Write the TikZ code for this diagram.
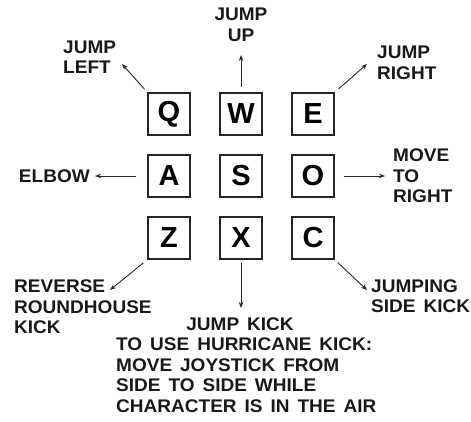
\documentclass[tikz,border=0pt]{standalone}
\usepackage{fontspec}
\setmainfont{Liberation Sans}
\newfontfamily\lblfont{Liberation Sans}[WordSpace=1.5, FakeStretch=1.04]
\usetikzlibrary{arrows.meta}
\begin{document}
\begin{tikzpicture}[
  x=1pt, y=-1pt,
  key/.style={rectangle, draw=black!85, line width=1.6pt, minimum width=42pt,
    minimum height=42pt, inner sep=0pt, font=\fontsize{29}{29}\selectfont\bfseries},
  lbl/.style={inner sep=0pt, align=left, text=black!90,
    font=\lblfont\fontsize{18.3}{20.5}\selectfont\bfseries},
  arr/.style={->, >={Stealth[length=6pt,width=4.5pt]}, line width=0.9pt, draw=black!85},
]
\useasboundingbox (0,0) rectangle (471,421);

% Keyboard grid
\node[key] (q) at (169,114) {Q};
\node[key] (w) at (241,114) {W};
\node[key] (e) at (313,114) {E};
\node[key] (a) at (169,176) {A};
\node[key] (s) at (241,176) {S};
\node[key] (o) at (313,176) {O};
\node[key] (z) at (169,238) {Z};
\node[key] (x) at (241,238) {X};
\node[key] (c) at (313,238) {C};

% Move labels
\node[lbl, align=center] (jumpup) at (241,25) {JUMP\\UP};
\node[lbl, anchor=west] (jumpleft) at (63,57) {JUMP\\LEFT};
\node[lbl, anchor=west] (jumpright) at (377,63) {JUMP\\RIGHT};
\node[lbl, anchor=east] (elbow) at (90,176) {ELBOW};
\node[lbl, anchor=west] (moveright) at (393,176) {MOVE\\TO\\RIGHT};
\node[lbl, anchor=west] (reverse) at (14,307) {REVERSE\\ROUNDHOUSE\\KICK};
\node[lbl, anchor=west] (sidekick) at (371,296) {JUMPING\\SIDE KICK};
\node[lbl, align=center] (jumpkick) at (240,324) {JUMP KICK};
\node[lbl, anchor=north west] (hurricane) at (116,338)
  {TO USE HURRICANE KICK:\\MOVE JOYSTICK FROM\\SIDE TO SIDE WHILE\\CHARACTER IS IN THE AIR};

% Arrow tips
\coordinate (tipq) at (122,64);
\coordinate (tipw) at (241,55);
\coordinate (tipe) at (367,64);
\coordinate (tipa) at (95,176);
\coordinate (tipo) at (385,176);
\coordinate (tipz) at (110,290);
\coordinate (tipx) at (241,308);
\coordinate (tipc) at (367,290);

\draw[arr, shorten <=4pt] (q.north west) -- (tipq);
\draw[arr, shorten <=5pt] (w.north) -- (tipw);
\draw[arr, shorten <=5pt] (e.north east) -- (tipe);
\draw[arr, shorten <=11pt] (a.west) -- (tipa);
\draw[arr, shorten <=9pt] (o.east) -- (tipo);
\draw[arr, shorten <=5pt] (z.south west) -- (tipz);
\draw[arr, shorten <=3pt] (x.south) -- (tipx);
\draw[arr, shorten <=4pt] (c.south east) -- (tipc);
\end{tikzpicture}
\end{document}
